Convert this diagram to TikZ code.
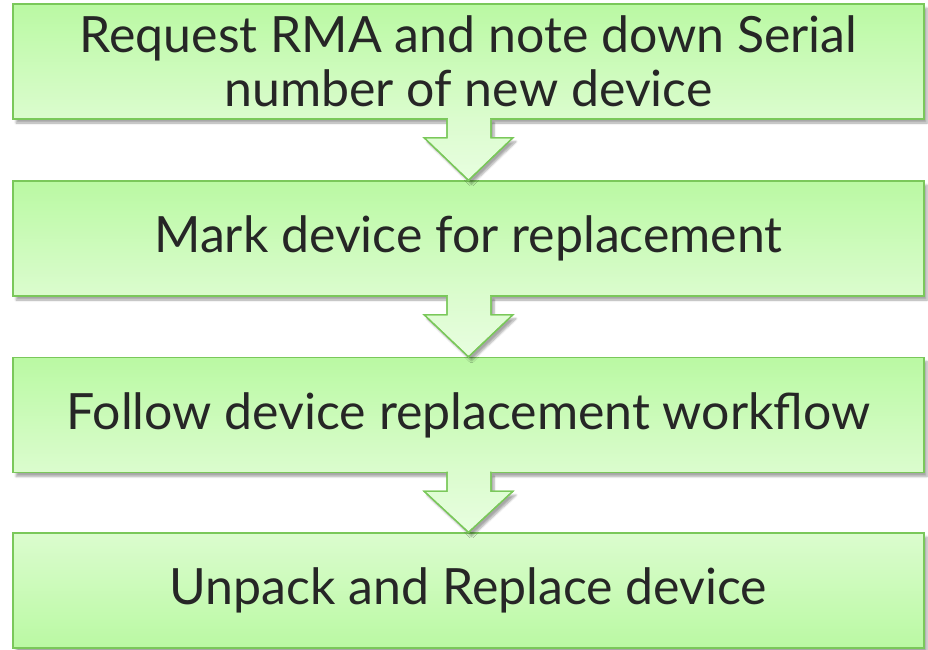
\documentclass[tikz,border=0pt]{standalone}
\usepackage{fontspec}
\setmainfont{Lato}
\usetikzlibrary{calc,shadows.blur}
\definecolor{gdark}{RGB}{186,249,163}
\definecolor{glight}{RGB}{219,252,206}
\definecolor{gwhite}{RGB}{232,254,224}
\definecolor{gborder}{RGB}{122,200,90}
\definecolor{txt}{RGB}{38,38,38}
\tikzset{
  stepbox/.style={draw=gborder, line width=1.3pt, minimum width=911pt, minimum height=115pt,
    inner sep=0pt, align=center, text=txt, font=\fontsize{50}{54}\selectfont,
    top color=gdark, bottom color=glight,
    blur shadow={shadow xshift=3pt, shadow yshift=-4pt, shadow blur steps=6, shadow opacity=35}},
  revbox/.style={stepbox, top color=glight, bottom color=gdark},
  downarrow/.style={draw=gborder, line width=1.3pt, line join=miter, top color=glight, bottom color=gwhite,
    blur shadow={shadow xshift=3pt, shadow yshift=-4pt, shadow blur steps=6, shadow opacity=35}}
}
\begin{document}
\begin{tikzpicture}[x=1pt,y=-1pt]
\useasboundingbox (0,0) rectangle (928,649);
\node[stepbox] (b1) at (468.5,61.5) {Request RMA and note down Serial\\number of new device};
\node[stepbox] (b2) at (468.5,238.5) {Mark device for replacement};
\node[stepbox] (b3) at (468.5,415) {Follow device replacement workflow};
\node[revbox] (b4) at (468.5,590.5) {Unpack and Replace device};
\foreach \a/\b in {b1/b2,b2/b3,b3/b4}{
  \path[downarrow] ($(\a.south)+(-21.5,-1)$) -- ($(\a.south)+(-21.5,18)$) -- ($(\a.south)+(-44.5,18)$)
     -- (\b.north) -- ($(\a.south)+(44.5,18)$) -- ($(\a.south)+(22.5,18)$) -- ($(\a.south)+(22.5,-1)$) -- cycle;
  \fill[glight] ($(\a.south)+(-20.8,-3)$) rectangle ($(\a.south)+(21.8,0.5)$);
  \draw[gborder, line width=1.3pt] ($(\a.south)+(-21.5,0)$) -- ($(\a.south)+(-21.5,18)$) -- ($(\a.south)+(-44.5,18)$)
     -- (\b.north) -- ($(\a.south)+(44.5,18)$) -- ($(\a.south)+(22.5,18)$) -- ($(\a.south)+(22.5,0)$);
}
\end{tikzpicture}
\end{document}
